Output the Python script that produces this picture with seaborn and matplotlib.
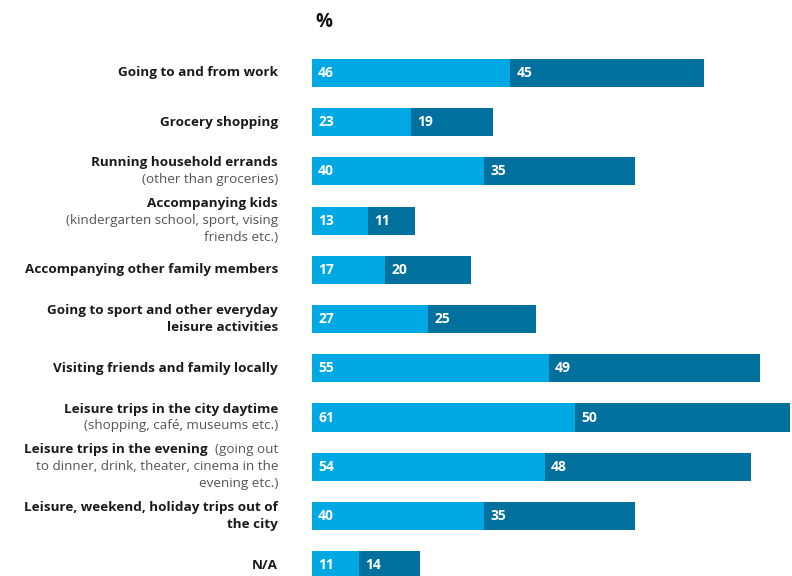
import matplotlib
matplotlib.use("Agg")
import matplotlib.pyplot as plt
import seaborn as sns

# data
categories = [
    "Going to and from work",
    "Grocery shopping",
    "Running household errands",
    "Accompanying kids",
    "Accompanying other family members",
    "Going to sport and other everyday leisure activities",
    "Visiting friends and family locally",
    "Leisure trips in the city daytime",
    "Leisure trips in the evening",
    "Leisure, weekend, holiday trips out of the city",
    "N/A",
]
first_vals = [46, 23, 40, 13, 17, 27, 55, 61, 54, 40, 11]
second_vals = [45, 19, 35, 11, 20, 25, 49, 50, 48, 35, 14]

# label lines: each line is a list of (text, bold) pieces
label_lines = [
    [[("Going to and from work", True)]],
    [[("Grocery shopping", True)]],
    [[("Running household errands", True)], [("(other than groceries)", False)]],
    [[("Accompanying kids", True)],
     [("(kindergarten school, sport, vising", False)],
     [("friends etc.)", False)]],
    [[("Accompanying other family members", True)]],
    [[("Going to sport and other everyday", True)], [("leisure activities", True)]],
    [[("Visiting friends and family locally", True)]],
    [[("Leisure trips in the city daytime", True)],
     [("(shopping, café, museums etc.)", False)]],
    [[("Leisure trips in the evening", True), ("  (going out", False)],
     [("to dinner, drink, theater, cinema in the", False)],
     [("evening etc.)", False)]],
    [[("Leisure, weekend, holiday trips out of", True)], [("the city", True)]],
    [[("N/A", True)]],
]

light = "#00A8E4"
dark = "#00709E"

sns.set_style("white")
plt.rcParams["font.family"] = ["Open Sans", "DejaVu Sans"]

fig = plt.figure(figsize=(7.92, 5.76), dpi=100)
ax = fig.add_axes([312 / 792, 0, 478 / 792, 536 / 576])

totals = [a + b for a, b in zip(first_vals, second_vals)]
sns.barplot(x=totals, y=categories, color=dark, width=0.57, ax=ax,
            saturation=1, linewidth=0)
sns.barplot(x=first_vals, y=categories, color=light, width=0.57, ax=ax,
            saturation=1, linewidth=0)

ax.set_xlim(0, 111)
ax.set_ylim(10.22, -0.67)
ax.set_xticks([])
ax.set_yticks([])
ax.set_xlabel("")
ax.set_ylabel("")
for s in ax.spines.values():
    s.set_visible(False)

# value labels
for i, (a, b) in enumerate(zip(first_vals, second_vals)):
    for start, v in ((0, a), (a, b)):
        ax.annotate(str(v), xy=(start, i), xytext=(4.5, 0), textcoords="offset points",
                    ha="left", va="center", color="white", fontsize=10, fontweight="bold")

# category labels
renderer = fig.canvas.get_renderer()
label_x = (278 - 312) / 478
line_step = 12.2  # points
fs = 9.7
for i, lines in enumerate(label_lines):
    n = len(lines)
    for j, pieces in enumerate(lines):
        dy = ((n - 1) / 2 - j) * line_step
        offset = 0.0
        for text, bold in reversed(pieces):
            t = ax.annotate(text, xy=(label_x, i), xycoords=("axes fraction", "data"),
                            xytext=(offset, dy), textcoords="offset points",
                            ha="right", va="center", fontsize=fs,
                            fontweight="bold" if bold else "normal",
                            color="#1a1a1a" if bold else "#555555")
            w = t.get_window_extent(renderer).width
            offset -= w * 72 / fig.dpi

fig.text(315 / 792, 1 - 22 / 576, "%", ha="left", va="center",
         fontsize=13.5, fontweight="bold", color="#111111")

fig.savefig("out.png", dpi=100)
